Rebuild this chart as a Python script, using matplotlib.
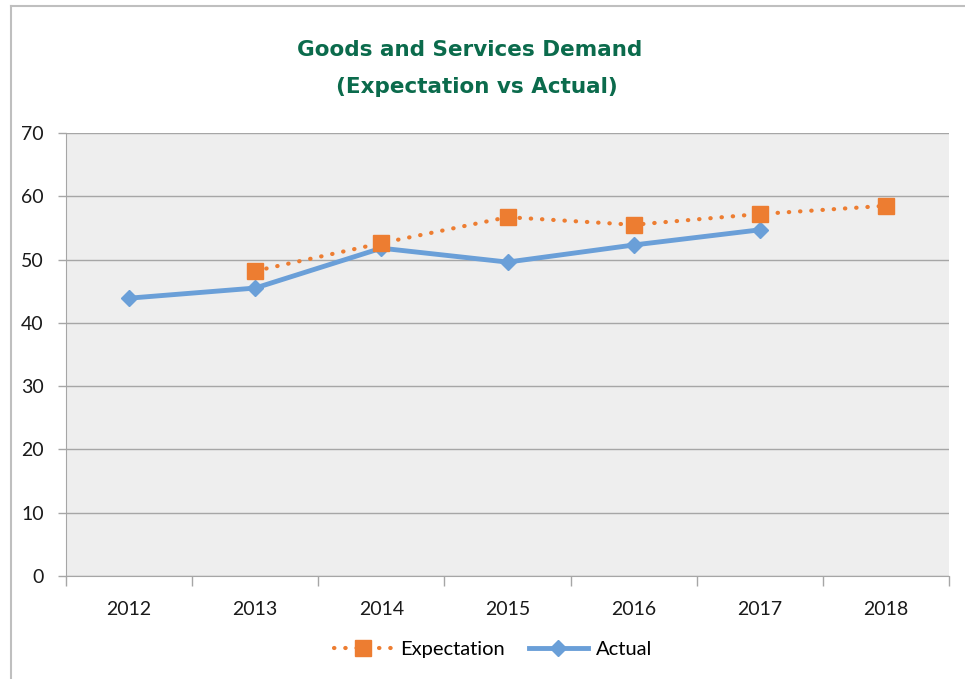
import matplotlib
matplotlib.use("Agg")
import matplotlib.pyplot as plt
from matplotlib.lines import Line2D
import numpy as np

# Data
years = ["2012", "2013", "2014", "2015", "2016", "2017", "2018"]
expectation = [np.nan, 48.2, 52.6, 56.7, 55.5, 57.2, 58.5]
actual = [43.9, 45.5, 51.8, 49.6, 52.3, 54.7, np.nan]
y_ticks = [0, 10, 20, 30, 40, 50, 60, 70]

orange = "#ed7d31"
blue = "#6a9fd8"
grid_col = "#a6a6a6"
frame_col = "#bfbfbf"
title_col = "#0b6b4c"

plt.rcParams["font.family"] = ["Lato", "DejaVu Sans"]

fig = plt.figure(figsize=(9.65, 6.79), dpi=100)
ax = fig.add_axes([66 / 965, 1 - 576 / 679, (949 - 66) / 965, (576 - 133) / 679])
ax.set_facecolor("#eeeeee")

x = np.arange(len(years))
ax.plot(x, actual, color=blue, lw=3.5, marker="D", markersize=8.5,
        markerfacecolor=blue, markeredgecolor=blue, zorder=3, label="Actual")
ax.plot(x, expectation, color=orange, lw=3.0, linestyle=(0, (0.1, 2.6)),
        dash_capstyle="round", marker="s", markersize=11,
        markerfacecolor=orange, markeredgecolor=orange, zorder=4,
        label="Expectation")

ax.set_xlim(-0.5, len(years) - 0.5)
ax.set_ylim(0, 70)
ax.set_yticks(y_ticks)
ax.set_yticklabels([str(v) for v in y_ticks], fontsize=14, color="#1a1a1a")
ax.set_xticks(x)
ax.set_xticklabels(years, fontsize=14, color="#1a1a1a")
ax.tick_params(axis="x", which="major", length=0, pad=18)
ax.set_xticks(np.arange(len(years) + 1) - 0.5, minor=True)
ax.tick_params(axis="x", which="minor", length=7, color=grid_col, width=1)
ax.tick_params(axis="y", length=6, color=grid_col, width=1, pad=10)

ax.yaxis.grid(True, color=grid_col, lw=1)
ax.set_axisbelow(True)
for side in ["top", "right"]:
    ax.spines[side].set_visible(False)
ax.spines["left"].set_color(grid_col)
ax.spines["bottom"].set_color(grid_col)

# Legend
handles = [
    Line2D([], [], color=orange, lw=3.0, linestyle=(0, (0.1, 2.6)),
           dash_capstyle="round", marker="s", markersize=11,
           markerfacecolor=orange, markeredgecolor=orange),
    Line2D([], [], color=blue, lw=3.5, marker="D", markersize=8.5,
           markerfacecolor=blue, markeredgecolor=blue),
]
fig.legend(handles, ["Expectation", "Actual"], loc="center",
           bbox_to_anchor=(493 / 965, 1 - 649 / 679), ncol=2, frameon=False,
           fontsize=14.5, handlelength=2.9, handletextpad=0.4,
           columnspacing=1.2)

# Title
fig.text(470 / 965, 1 - 50 / 679, "Goods and Services Demand",
         ha="center", va="center", fontsize=15.5, fontweight="bold",
         color=title_col, family=["DejaVu Sans"])
fig.text(477 / 965, 1 - 87 / 679, "(Expectation vs Actual)",
         ha="center", va="center", fontsize=15.5, fontweight="bold",
         color=title_col, family=["DejaVu Sans"])

# Outer frame lines (top and left)
fig.add_artist(Line2D([11 / 965, 1.0], [1 - 5.5 / 679, 1 - 5.5 / 679],
                      color=frame_col, lw=1.5, transform=fig.transFigure))
fig.add_artist(Line2D([11 / 965, 11 / 965], [0, 1 - 5.5 / 679],
                      color=frame_col, lw=1.5, transform=fig.transFigure))

fig.savefig("out.png", dpi=100)
